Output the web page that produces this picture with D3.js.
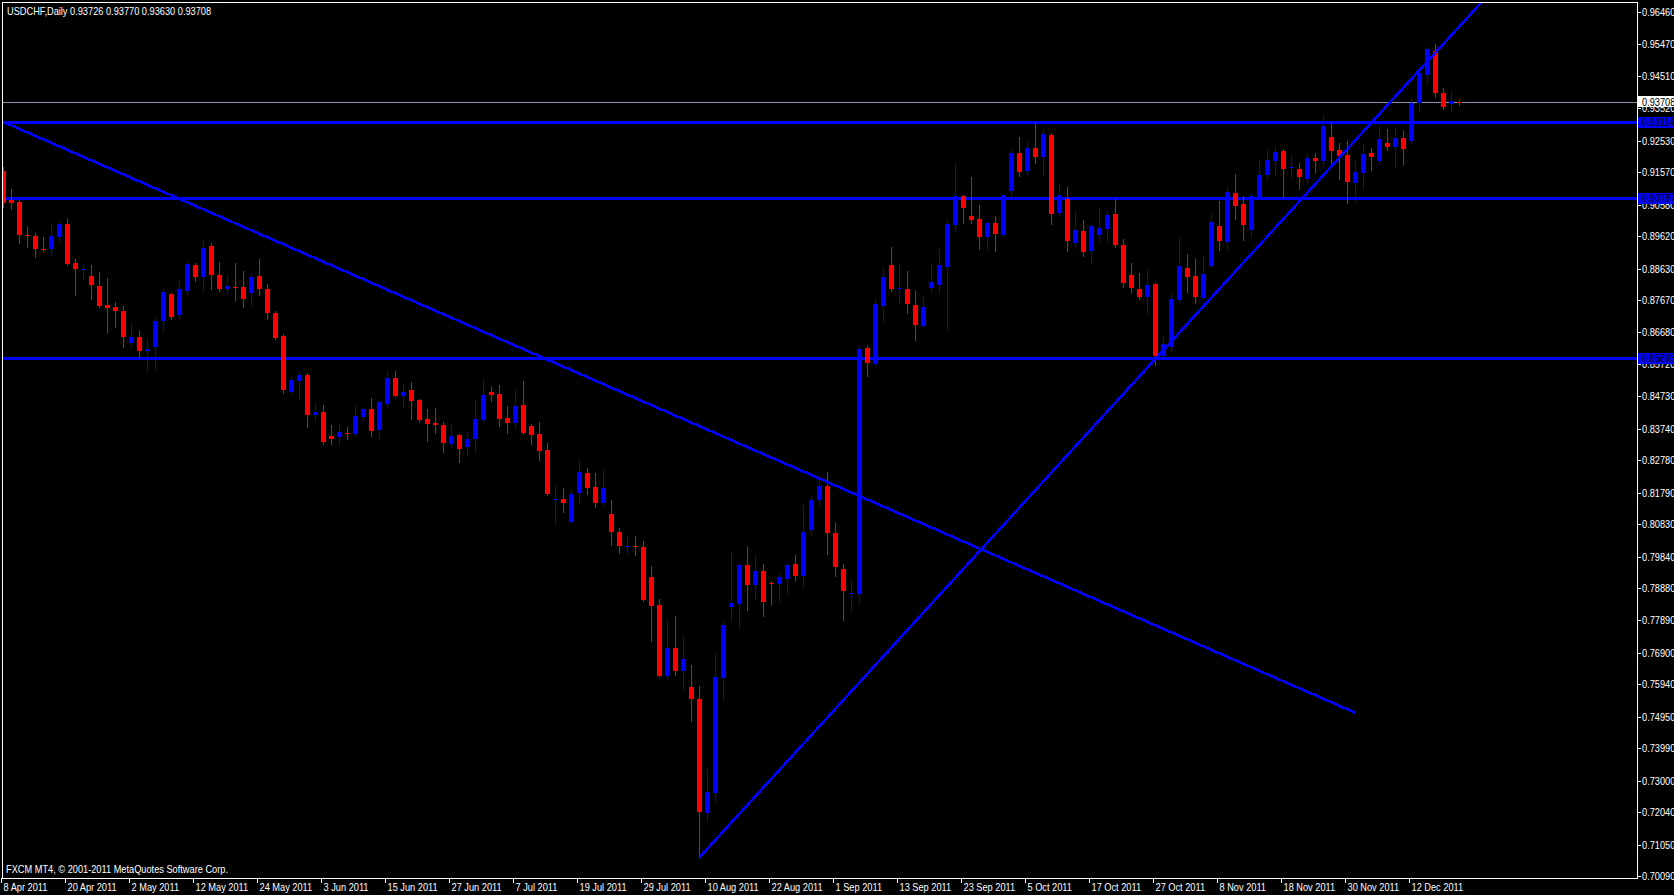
<!DOCTYPE html>
<html><head><meta charset="utf-8">
<script src="https://cdn.jsdelivr.net/npm/d3@7"></script>
<style>html,body{margin:0;padding:0;background:#000;overflow:hidden}
text{font-family:"Liberation Sans",Arial,sans-serif;font-size:10.5px;fill:#fff}</style>
</head><body>
<svg id="c" width="1674" height="895"></svg>
<script>
const symbol = "USDCHF,Daily";
const lastQuote = [0.93726, 0.93770, 0.93630, 0.93708];
const footer = "FXCM MT4, \u00A9 2001-2011 MetaQuotes Software Corp.";

const opens = [.9161,.9072,.9066,.8965,.8962,.8922,.8924,.8960,.8999,.8879,.8862,.8840,.8810,.8751,.8745,.8732,.8637,.8653,.8610,.8624,
.8704,.8785,.8720,.8795,.8873,.8836,.8932,.8842,.8800,.8807,.8807,.8789,.8840,.8802,.8728,.8656,.8487,.8520,.8537,.8417,
.8425,.8352,.8348,.8360,.8357,.8411,.8433,.8370,.8450,.8529,.8474,.8492,.8462,.8403,.8391,.8385,.8326,.8354,.8319,.8342,
.8401,.8486,.8480,.8407,.8391,.8446,.8382,.8358,.8309,.8159,.8159,.8090,.8177,.8238,.8195,.8146,.8114,.8059,.8014,.8015,
.8012,.7923,.7837,.7619,.7705,.7636,.7587,.7548,.7202,.7261,.7613,.7829,.7838,.7957,.7896,.7941,.7904,.7900,.7914,.7961,
.7926,.8065,.8157,.8199,.8057,.7945,.7872,.7870,.8620,.8572,.8749,.8873,.8802,.8800,.8753,.8688,.8804,.8812,.8867,.8995,
.9084,.9023,.9015,.8958,.9001,.8964,.9101,.9217,.9160,.9231,.9204,.9271,.9032,.9074,.8942,.8979,.8916,.8966,.8985,.9030,
.8936,.8844,.8802,.8777,.8816,.8596,.8623,.8767,.8865,.8840,.8773,.8871,.8993,.8944,.9093,.9060,.8981,.9080,.9149,.9190,
.9223,.9172,.9166,.9137,.9200,.9190,.9264,.9225,.9211,.9125,.9156,.9215,.9192,.9247,.9235,.9261,.9253,.9367,.9455,.9526,
.9400,.9365,.93726];
const highs = [.9173,.9105,.9072,.8993,.8971,.8958,.9001,.9007,.9017,.8893,.8877,.8873,.8852,.8834,.8761,.8749,.8696,.8675,.8651,.8712,
.8800,.8789,.8826,.8883,.8879,.8948,.8942,.8883,.8842,.8881,.8857,.8850,.8893,.8816,.8734,.8663,.8533,.8547,.8543,.8452,
.8446,.8385,.8391,.8380,.8446,.8439,.8468,.8460,.8549,.8549,.8511,.8517,.8464,.8433,.8437,.8395,.8385,.8358,.8366,.8464,
.8525,.8505,.8507,.8443,.8494,.8519,.8388,.8395,.8330,.8199,.8193,.8191,.8279,.8254,.8238,.8248,.8157,.8071,.8046,.8046,
.8030,.7955,.7855,.7790,.7802,.7742,.7654,.7589,.7335,.7687,.7788,.7998,.7961,.8016,.7988,.7961,.7908,.7935,.7961,.7988,
.8140,.8172,.8230,.8242,.8089,.7961,.7912,.8627,.8627,.8769,.8865,.8930,.8881,.8857,.8798,.8775,.8877,.8924,.9011,.9184,
.9088,.9143,.9058,.9005,.9023,.9088,.9225,.9264,.9249,.9308,.9288,.9276,.9123,.9113,.9040,.9011,.8999,.9048,.9040,.9074,
.8954,.8881,.8848,.8859,.8820,.8653,.8789,.8960,.8907,.8895,.8903,.9032,.9070,.9111,.9152,.9085,.9093,.9198,.9225,.9237,
.9227,.9209,.9184,.9217,.9217,.9331,.9306,.9245,.9253,.9190,.9243,.9231,.9298,.9288,.9292,.9286,.9385,.9477,.9538,.9548,
.9414,.9402,.93770];
const lows = [.9051,.9046,.8942,.8928,.8897,.8917,.8903,.8946,.8875,.8781,.8830,.8771,.8745,.8667,.8686,.8624,.8624,.8594,.8551,.8555,
.8673,.8708,.8708,.8781,.8826,.8795,.8800,.8795,.8784,.8765,.8747,.8753,.8781,.8708,.8649,.8483,.8483,.8466,.8380,.8399,
.8328,.8326,.8324,.8344,.8352,.8397,.8352,.8346,.8441,.8474,.8441,.8405,.8399,.8338,.8362,.8303,.8317,.8273,.8295,.8303,
.8399,.8460,.8382,.8362,.8376,.8358,.8328,.8279,.8171,.8083,.8120,.8088,.8148,.8175,.8136,.8142,.8020,.7996,.7992,.7988,
.7849,.7727,.7619,.7609,.7623,.7577,.7483,.7066,.7178,.7237,.7546,.7788,.7766,.7821,.7855,.7803,.7837,.7849,.7873,.7908,
.7892,.8050,.8138,.7991,.7925,.7789,.7818,.7841,.8535,.8570,.8702,.8795,.8755,.8728,.8645,.8684,.8791,.8787,.8675,.8975,
.9003,.9003,.8924,.8924,.8917,.8962,.9082,.9144,.9148,.9184,.9144,.8999,.9026,.8917,.8926,.8901,.8881,.8948,.8948,.8928,
.8806,.8787,.8771,.8728,.8570,.8588,.8610,.8763,.8791,.8759,.8771,.8869,.8920,.8922,.9015,.8950,.8960,.9074,.9137,.9149,
.9082,.9141,.9107,.9125,.9154,.9176,.9174,.9137,.9064,.9070,.9107,.9164,.9184,.9225,.9174,.9180,.9247,.9341,.9428,.9388,
.9351,.9345,.93630];
const closes = [.9063,.9064,.8966,.8964,.8924,.8921,.8962,.8999,.8877,.8861,.8863,.8812,.8749,.8743,.8734,.8653,.8653,.8610,.8616,.8702,
.8791,.8716,.8800,.8877,.8838,.8926,.8844,.8800,.8810,.8806,.8771,.8838,.8800,.8726,.8651,.8492,.8523,.8537,.8417,.8425,
.8334,.8344,.8364,.8359,.8413,.8433,.8368,.8456,.8529,.8474,.8486,.8460,.8401,.8388,.8385,.8332,.8352,.8313,.8342,.8403,
.8476,.8478,.8405,.8393,.8443,.8362,.8356,.8305,.8175,.8160,.8146,.8175,.8242,.8193,.8148,.8193,.8059,.8016,.8015,.8013,
.7851,.7833,.7619,.7705,.7636,.7670,.7548,.7204,.7265,.7615,.7774,.7841,.7957,.7896,.7941,.7845,.7903,.7921,.7957,.7924,
.8059,.8157,.8199,.8057,.7953,.7880,.7873,.8616,.8574,.8755,.8838,.8800,.8804,.8755,.8692,.8745,.8822,.8873,.8999,.9084,
.9048,.9011,.8958,.9001,.8968,.9086,.9217,.9158,.9231,.9204,.9274,.9030,.9087,.8946,.8981,.8914,.8993,.8987,.9026,.8934,
.8820,.8804,.8777,.8812,.8596,.8633,.8769,.8871,.8838,.8775,.8846,.9005,.8948,.9097,.9054,.8997,.9084,.9148,.9194,.9219,
.9166,.9173,.9141,.9200,.9192,.9298,.9223,.9206,.9127,.9158,.9213,.9204,.9257,.9235,.9261,.9229,.9369,.9461,.9532,.9400,
.9357,.9375,.93708];

const dateLabels = ["8 Apr 2011","20 Apr 2011","2 May 2011","12 May 2011","24 May 2011","3 Jun 2011","15 Jun 2011","27 Jun 2011",
"7 Jul 2011","19 Jul 2011","29 Jul 2011","10 Aug 2011","22 Aug 2011","1 Sep 2011","13 Sep 2011","23 Sep 2011","5 Oct 2011",
"17 Oct 2011","27 Oct 2011","8 Nov 2011","18 Nov 2011","30 Nov 2011","12 Dec 2011"];
const dateLabelBars = [0,8,16,24,32,40,48,56,64,72,80,88,96,104,112,120,128,136,144,152,160,168,176];
const priceTicks = ["0.96460","0.95470","0.94510","0.93520","0.92530","0.91570","0.90580","0.89620","0.88630","0.87670",
"0.86680","0.85720","0.84730","0.83740","0.82780","0.81790","0.80830","0.79840","0.78880","0.77890","0.76900","0.75940",
"0.74950","0.73990","0.73000","0.72040","0.71050","0.70090"];
const levels = [0.93114, 0.90787, 0.85893];
const levelLabels = ["0.93114", "0.90787", "0.85893"];
const trendDown = [[-1, 0.9321], [169, 0.7507]];
const trendUp = [[87, 0.7066], [160, 0.9015]];

const W = 1674, H = 895;
const L = 2, R = 1637, T = 2, B = 878;
const svg = d3.select("#c");
svg.append("rect").attr("width", W).attr("height", H).attr("fill", "#000");

const x = d3.scaleLinear().domain([0, 182]).range([3, 1459]);
const y = d3.scaleLinear().domain([0.70090, 0.96460]).range([876, 12]);

function txt(px, py, s, fill) {
  const t = svg.append("text").attr("transform", `translate(${px},${py}) scale(0.88,1)`)
    .attr("dy", "0.35em").text(s);
  if (fill) t.style("fill", fill);
  return t;
}

svg.append("clipPath").attr("id", "plot").append("rect")
  .attr("x", L + 1).attr("y", T + 1).attr("width", R - L - 1).attr("height", B - T - 1);
const g = svg.append("g").attr("clip-path", "url(#plot)");

// horizontal levels
g.selectAll("rect.lvl").data(levels).join("rect").attr("class", "lvl")
  .attr("x", L).attr("width", R - L)
  .attr("y", d => Math.round(y(d)) - 1).attr("height", 3).attr("fill", "#0000ff");

// bid line
g.append("rect").attr("x", L).attr("width", R - L)
  .attr("y", Math.round(y(lastQuote[3]))).attr("height", 1).attr("fill", "#8a96a4");

// candles
const idx = d3.range(opens.length);
const col = i => closes[i] >= opens[i] ? "#0000ff" : "#ff0000";
g.selectAll("rect.wick").data(idx).join("rect").attr("class", "wick")
  .attr("x", i => x(i)).attr("width", 1)
  .attr("y", i => Math.round(y(highs[i])))
  .attr("height", i => Math.max(1, Math.round(y(lows[i])) - Math.round(y(highs[i])) + 1))
  .attr("fill", col);
g.selectAll("rect.body").data(idx).join("rect").attr("class", "body")
  .attr("x", i => x(i) - 2).attr("width", 5)
  .attr("y", i => Math.round(y(Math.max(opens[i], closes[i]))))
  .attr("height", i => Math.max(1, Math.round(y(Math.min(opens[i], closes[i]))) - Math.round(y(Math.max(opens[i], closes[i])))))
  .attr("fill", col);

// trend lines
const line = d3.line().x(d => x(d[0]) + 0.5).y(d => y(d[1]));
g.append("path").datum(trendDown).attr("d", line)
  .attr("stroke", "#0000ff").attr("stroke-width", 2.6).attr("fill", "none").attr("shape-rendering", "crispEdges");
const ext = (p, i) => [i, p[0][1] + (p[1][1] - p[0][1]) * (i - p[0][0]) / (p[1][0] - p[0][0])];
g.append("path").datum([trendUp[0], ext(trendUp, 230)]).attr("d", line)
  .attr("stroke", "#0000ff").attr("stroke-width", 2.6).attr("fill", "none").attr("shape-rendering", "crispEdges");

// frame
svg.append("path").attr("d", `M${L + 0.5},${B + 0.5}V${T + 0.5}H${R + 0.5}V${B + 0.5}H${L + 0.5}`)
  .attr("stroke", "#fff").attr("stroke-width", 1).attr("fill", "none").attr("shape-rendering", "crispEdges");

// price axis
priceTicks.forEach(t => {
  const yy = Math.round(y(+t));
  svg.append("rect").attr("x", R + 1).attr("y", yy).attr("width", 3).attr("height", 1).attr("fill", "#fff");
  txt(1642, yy + 0.5, t);
});
// level labels
levels.forEach((v, k) => {
  const yy = Math.round(y(v));
  svg.append("rect").attr("x", R + 1).attr("y", yy - 5).attr("width", W - R).attr("height", 11).attr("fill", "#0000ff");
  txt(1642, yy + 0.5, levelLabels[k], "#000");
});
{
  const yy = Math.round(y(lastQuote[3]));
  svg.append("rect").attr("x", R + 1).attr("y", yy - 6).attr("width", W - R).attr("height", 11).attr("fill", "#fff");
  txt(1642, yy, d3.format(".5f")(lastQuote[3]), "#000");
}

// time axis
dateLabels.forEach((t, k) => {
  const xx = x(dateLabelBars[k]);
  svg.append("rect").attr("x", xx - 2).attr("y", B).attr("width", 1).attr("height", 5).attr("fill", "#fff");
  txt(xx + 0.5, 887, t);
});

// title and footer
txt(7, 11, symbol + "  " + lastQuote.map(d3.format(".5f")).join(" "));
txt(6, 869, footer);
</script>
</body></html>
